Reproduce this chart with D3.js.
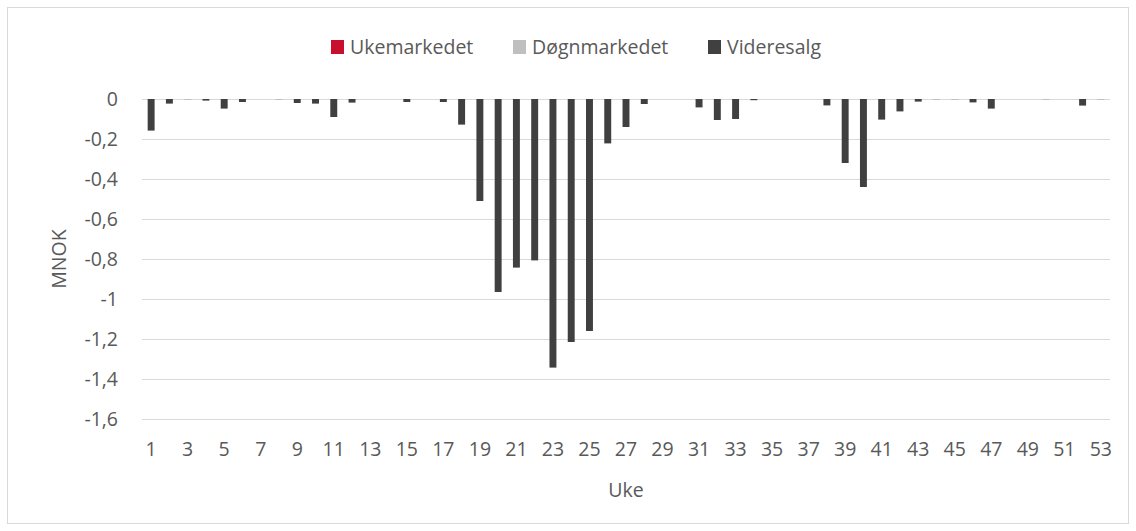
<!DOCTYPE html>
<html>
<head>
<meta charset="utf-8">
<script src="https://cdn.jsdelivr.net/npm/d3@7"></script>
<style>
  body { margin: 0; background: #fff; }
  svg { display: block; font-family: "Open Sans", sans-serif; }
</style>
</head>
<body>
<svg id="chart" width="1136" height="531"></svg>
<script>
const weeks = d3.range(1, 54);
const seriesNames = ["Ukemarkedet", "Døgnmarkedet", "Videresalg"];
const seriesColors = ["#C8102E", "#BFBFBF", "#404040"];

const ukemarkedet = weeks.map(() => 0);
const dognmarkedet = [
  0, 0, -0.005, 0, 0, 0, 0, -0.005, 0, 0,
  0, 0, 0, 0, 0, 0, 0, 0, 0, 0,
  0, 0, 0, 0, 0, 0, 0, 0, 0, 0,
  0, 0, 0, 0, 0, 0, 0, 0, 0, 0,
  0, 0, 0, -0.005, -0.005, 0, 0, 0, 0, -0.005,
  0, 0, -0.005
];
const videresalg = [
  -0.158, -0.023, 0, -0.008, -0.048, -0.015, 0, 0, -0.02, -0.023,
  -0.09, -0.018, 0, 0, -0.015, 0, -0.015, -0.128, -0.51, -0.965,
  -0.843, -0.807, -1.343, -1.215, -1.16, -0.222, -0.14, -0.025, 0, 0,
  -0.042, -0.105, -0.1, -0.006, 0, 0, 0, -0.032, -0.32, -0.44,
  -0.103, -0.062, -0.013, 0, 0, -0.017, -0.048, 0, 0, 0,
  0, -0.033, 0
];
const yTicks = [0, -0.2, -0.4, -0.6, -0.8, -1, -1.2, -1.4, -1.6];
const xTickLabels = weeks.filter((w) => w % 2 === 1);

const table = weeks.map((w, i) => ({
  week: w,
  Ukemarkedet: ukemarkedet[i],
  "Døgnmarkedet": dognmarkedet[i],
  Videresalg: videresalg[i],
}));

const svg = d3.select("#chart");
const textColor = "#595959";
const gridColor = "#D9D9D9";
const fontSize = 19.5;

// chart area border
svg.append("rect")
  .attr("x", 7.5).attr("y", 7.5)
  .attr("width", 1121).attr("height", 516)
  .attr("fill", "none").attr("stroke", gridColor);

const x = d3.scaleBand().domain(weeks).range([142, 1110])
  .paddingInner(0.62).paddingOuter(0.31);
const y = d3.scaleLinear().domain([-1.6, 0]).range([419, 99]);

// gridlines
svg.append("g").selectAll("line")
  .data(yTicks)
  .join("line")
  .attr("x1", 142).attr("x2", 1110)
  .attr("y1", (d) => Math.round(y(d)) + 0.5)
  .attr("y2", (d) => Math.round(y(d)) + 0.5)
  .attr("stroke", gridColor).attr("stroke-width", 1);

// stacked bars
const stacked = d3.stack().keys(seriesNames).offset(d3.stackOffsetDiverging)(table);
svg.append("g").selectAll("g")
  .data(stacked)
  .join("g")
  .attr("fill", (d, i) => seriesColors[i])
  .selectAll("rect")
  .data((d) => d)
  .join("rect")
  .attr("x", (d) => x(d.data.week))
  .attr("width", x.bandwidth())
  .attr("y", (d) => y(Math.max(d[0], d[1])))
  .attr("height", (d) => Math.abs(y(d[0]) - y(d[1])));

// y axis labels (comma decimal, plain hyphen)
const fmt = (v) => String(v).replace(".", ",");
const yAxis = d3.axisLeft(y).tickValues(yTicks).tickSize(0).tickPadding(0).tickFormat(fmt);
svg.append("g")
  .attr("transform", "translate(118,0)")
  .call(yAxis)
  .call((g) => g.select(".domain").remove())
  .call((g) => g.selectAll("text")
    .attr("fill", textColor).attr("font-size", fontSize)
    .attr("font-family", "Open Sans, sans-serif"));

// x axis labels
const xAxis = d3.axisBottom(x).tickValues(xTickLabels).tickSize(0).tickPadding(0);
svg.append("g")
  .attr("transform", "translate(0,442.5)")
  .call(xAxis)
  .call((g) => g.select(".domain").remove())
  .call((g) => g.selectAll("text")
    .attr("fill", textColor).attr("font-size", fontSize)
    .attr("font-family", "Open Sans, sans-serif"));

// axis titles
svg.append("text")
  .attr("x", 626).attr("y", 497)
  .attr("text-anchor", "middle")
  .attr("fill", textColor).attr("font-size", fontSize)
  .text("Uke");

svg.append("text")
  .attr("transform", "translate(66,259) rotate(-90)")
  .attr("text-anchor", "middle")
  .attr("fill", textColor).attr("font-size", fontSize)
  .text("MNOK");

// legend
const legendX = [331, 513, 708];
const legend = svg.append("g").selectAll("g")
  .data(seriesNames)
  .join("g")
  .attr("transform", (d, i) => `translate(${legendX[i]},40)`);
legend.append("rect")
  .attr("width", 13).attr("height", 14)
  .attr("fill", (d, i) => seriesColors[i]);
legend.append("text")
  .attr("x", 19).attr("y", 14)
  .attr("fill", textColor).attr("font-size", fontSize)
  .text((d) => d);
</script>
</body>
</html>
